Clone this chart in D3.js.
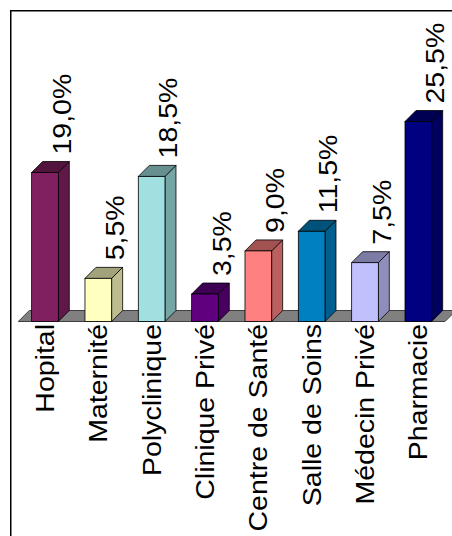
<!DOCTYPE html>
<html>
<head>
<meta charset="utf-8">
<script src="https://cdn.jsdelivr.net/npm/d3@7"></script>
<style>
  html, body { margin: 0; padding: 0; background: #fff; }
  svg { display: block; }
  text { font-family: "Liberation Sans", Arial, sans-serif; fill: #000; }
</style>
</head>
<body>
<div id="chart"></div>
<script>
// Répartition des lieux de recours aux soins
const categories = ["Hopital", "Maternité", "Polyclinique", "Clinique Privé",
                    "Centre de Santé", "Salle de Soins", "Médecin Privé", "Pharmacie"];
const values = [19.0, 5.5, 18.5, 3.5, 9.0, 11.5, 7.5, 25.5];
const valueLabels = ["19,0%", "5,5%", "18,5%", "3,5%", "9,0%", "11,5%", "7,5%", "25,5%"];
const colors = ["#802060", "#ffffc0", "#a0e0e0", "#600080",
                "#ff8080", "#0080c0", "#c0c0ff", "#000080"];

const W = 452, H = 536;
const depthX = 11, depthY = 11;   // 3D extrusion offset
const fontSize = 25, stretch = 1.14;

const svg = d3.select("#chart").append("svg")
  .attr("width", W).attr("height", H);

// Chart frame
svg.append("rect")
  .attr("x", 10.75).attr("y", 10.75)
  .attr("width", 600).attr("height", 700)
  .attr("fill", "none").attr("stroke", "#000").attr("stroke-width", 1.5);

const x = d3.scaleBand()
  .domain(categories)
  .range([18.3, 445])
  .paddingInner(0.5)
  .paddingOuter(0.25);

const y = d3.scaleLinear()
  .domain([0, d3.max(values)])
  .range([321.5, 121.5]);

const y0 = y(0);
const bw = x.bandwidth();
const [r0, r1] = x.range();

// Floor of the 3D plot
svg.append("path")
  .attr("d", d3.line()([
    [r0, y0], [r1, y0], [r1 + depthX, y0 - depthY], [r0 + depthX, y0 - depthY]
  ]) + "Z")
  .attr("fill", "#808080")
  .attr("stroke", "#404040")
  .attr("stroke-width", 1);

const data = categories.map((c, i) => ({ c, v: values[i], label: valueLabels[i], color: colors[i] }));

const bars = svg.append("g").selectAll("g.bar")
  .data(data)
  .join("g")
  .attr("class", "bar");

// Side face
bars.append("path")
  .attr("d", d => {
    const xr = x(d.c) + bw, yt = y(d.v);
    return d3.line()([[xr, y0], [xr + depthX, y0 - depthY], [xr + depthX, yt - depthY], [xr, yt]]) + "Z";
  })
  .attr("fill", d => d3.color(d.color).darker(0.85))
  .attr("stroke", "#000").attr("stroke-width", 0.8).attr("stroke-linejoin", "round");

// Top face
bars.append("path")
  .attr("d", d => {
    const xl = x(d.c), yt = y(d.v);
    return d3.line()([[xl, yt], [xl + depthX, yt - depthY], [xl + bw + depthX, yt - depthY], [xl + bw, yt]]) + "Z";
  })
  .attr("fill", d => d3.color(d.color).darker(1.25))
  .attr("stroke", "#000").attr("stroke-width", 0.8).attr("stroke-linejoin", "round");

// Front face
bars.append("rect")
  .attr("x", d => x(d.c))
  .attr("y", d => y(d.v))
  .attr("width", bw)
  .attr("height", d => y0 - y(d.v))
  .attr("fill", d => d.color)
  .attr("stroke", "#000").attr("stroke-width", 0.8);

// Value labels, rotated above each bar
bars.append("text")
  .attr("transform", d => `translate(${x(d.c) + 39},${y(d.v) - 18}) scale(1,${stretch}) rotate(-90)`)
  .attr("text-anchor", "start")
  .attr("font-size", fontSize)
  .text(d => d.label);

// Category labels, rotated below the floor
svg.append("g").selectAll("text")
  .data(categories)
  .join("text")
  .attr("transform", c => `translate(${x(c) + bw / 2 + 9},${y0 + 2.5}) scale(1,${stretch}) rotate(-90)`)
  .attr("text-anchor", "end")
  .attr("font-size", fontSize)
  .text(c => c);
</script>
</body>
</html>
